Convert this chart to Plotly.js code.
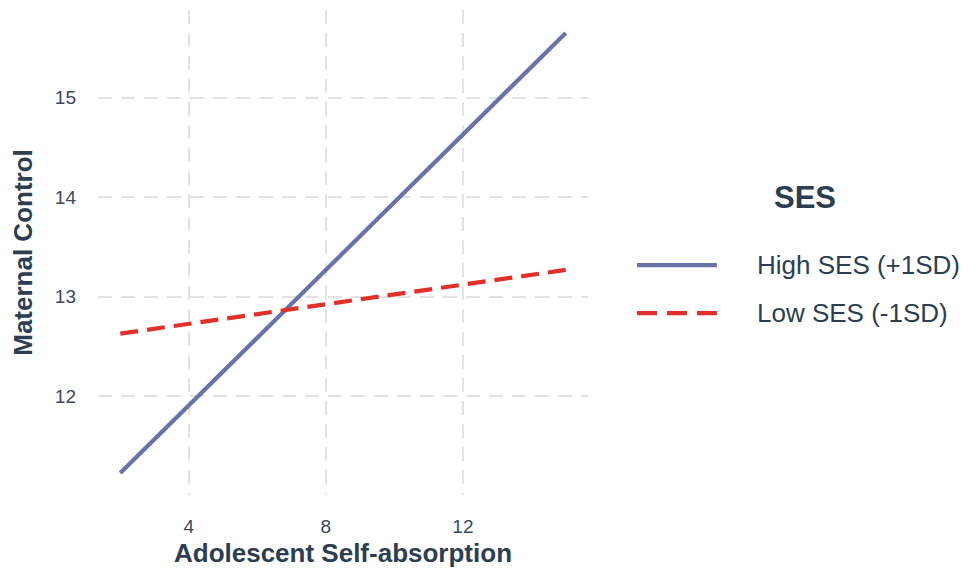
<!DOCTYPE html>
<html>
<head>
<meta charset="utf-8">
<script src="https://cdn.plot.ly/plotly-3.0.1.min.js"></script>
<style>html,body{margin:0;padding:0;background:#fff;}#chart{width:976px;height:574px;}</style>
</head>
<body>
<div id="chart"></div>
<script>
const selfAbsorption = [2, 15];
const highSES = [11.23, 15.65];
const lowSES = [12.63, 13.27];
const seriesNames = ["High SES (+1SD)", "Low SES (-1SD)"];
const xTicks = [4, 8, 12];
const yTicks = [12, 13, 14, 15];

const textColor = "#2c3e50";
const blue = "#6a73a8";
const red = "#e0302a";
const font = "Liberation Sans, Arial, sans-serif";

const traces = [
  {x: selfAbsorption, y: highSES, mode: "lines", name: seriesNames[0],
   line: {color: blue, width: 4.2}, showlegend: false},
  {x: selfAbsorption, y: lowSES, mode: "lines", name: seriesNames[1],
   line: {color: red, width: 4.2, dash: "18px,9px"}, showlegend: false}
];

const gridStyle = {showgrid: true, gridcolor: "#e3e3e3", gridwidth: 2, griddash: "14px,9px",
  zeroline: false, showline: false, ticks: ""};

const layout = {
  width: 976, height: 574,
  margin: {l: 98, r: 388, t: 10, b: 79},
  paper_bgcolor: "#fff", plot_bgcolor: "#fff",
  font: {family: font, color: textColor},
  xaxis: Object.assign({}, gridStyle, {
    range: [1.35, 15.65], tickvals: xTicks, ticktext: xTicks.map(String),
    tickfont: {size: 19, color: "#3b4a5e"}, ticklabelstandoff: 18,
    title: {text: "<b>Adolescent Self-absorption</b>", font: {size: 26, color: textColor}, standoff: 7}
  }),
  yaxis: Object.assign({}, gridStyle, {
    range: [11.01, 15.88], tickvals: yTicks, ticktext: yTicks.map(String),
    tickfont: {size: 19, color: "#3b4a5e"}, ticklabelstandoff: 21,
    title: {text: "<b>Maternal Control</b>", font: {size: 26, color: textColor}, standoff: 14}
  }),
  shapes: [
    {type: "line", xref: "paper", yref: "paper", x0: 1.1, x1: 1.263, y0: 0.474, y1: 0.474,
     line: {color: blue, width: 4.2}},
    {type: "line", xref: "paper", yref: "paper", x0: 1.1, x1: 1.263, y0: 0.375, y1: 0.375,
     line: {color: red, width: 4.2, dash: "20px,10px"}}
  ],
  annotations: [
    {xref: "paper", yref: "paper", x: 1.443, y: 0.614, text: "<b>SES</b>", showarrow: false,
     font: {size: 31, color: textColor}, xanchor: "center", yanchor: "middle"},
    {xref: "paper", yref: "paper", x: 1.341, y: 0.474, text: seriesNames[0], showarrow: false,
     font: {size: 26, color: textColor}, xanchor: "left", yanchor: "middle"},
    {xref: "paper", yref: "paper", x: 1.341, y: 0.375, text: seriesNames[1], showarrow: false,
     font: {size: 26, color: textColor}, xanchor: "left", yanchor: "middle"}
  ]
};

Plotly.newPlot("chart", traces, layout, {displayModeBar: false, staticPlot: true});
</script>
</body>
</html>
